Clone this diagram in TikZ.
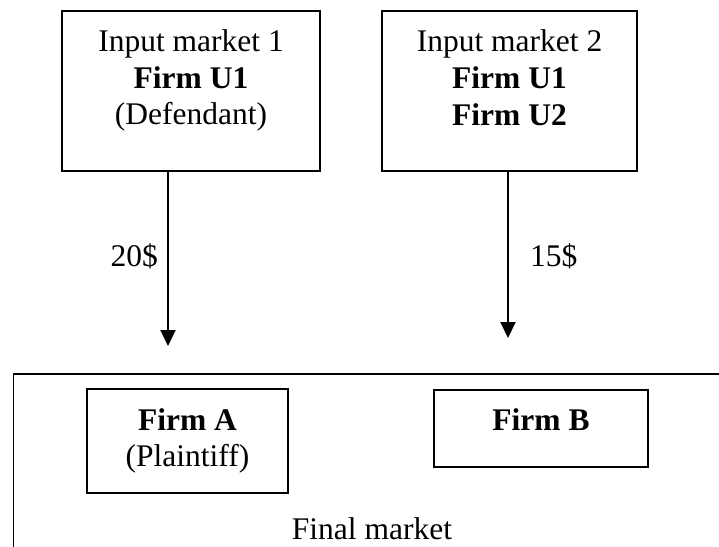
\documentclass[tikz,border=0pt]{standalone}
\usepackage{fontspec}
\setmainfont{Liberation Serif}
\usetikzlibrary{arrows.meta}
\tikzset{
  frame/.style={draw=black, line width=1.5pt, rectangle, inner sep=0pt},
  txt/.style={anchor=base, inner sep=0pt, font=\fontsize{31.5}{37}\selectfont},
  flow/.style={draw=black, line width=2pt, -{Triangle[width=15pt,length=16pt]}},
}
\begin{document}
\begin{tikzpicture}[x=1pt,y=-1pt]
  \clip (0,0) rectangle (719,546);
  \fill[white] (0,0) rectangle (719,546);

  % upstream input markets
  \node[frame, minimum width=258pt, minimum height=160pt] (in1) at (191,91) {};
  \node[frame, minimum width=255pt, minimum height=160pt] (in2) at (509.5,91) {};
  \node[txt] (in1a) at (191,51) {Input market 1};
  \node[txt] (in1b) at (191,88) {\textbf{Firm U1}};
  \node[txt] (in1c) at (191,124) {(Defendant)};
  \node[txt] (in2a) at (509.5,51) {Input market 2};
  \node[txt] (in2b) at (509.5,88) {\textbf{Firm U1}};
  \node[txt] (in2c) at (509.5,125) {\textbf{Firm U2}};

  % final market frame, running past the right and bottom edges
  \node[frame, anchor=north west, minimum width=800pt, minimum height=260pt] (fin) at (12.5,373) {};
  \node[frame, minimum width=201pt, minimum height=104pt] (fa) at (187.5,441) {};
  \node[frame, minimum width=214pt, minimum height=77pt] (fb) at (541,428.5) {};
  \node[txt] (faa) at (187.5,430) {\textbf{Firm A}};
  \node[txt] (fab) at (187.5,466) {(Plaintiff)};
  \node[txt] (fba) at (541,430) {\textbf{Firm B}};
  \node[txt] (finl) at (372,539) {Final market};

  % input prices
  \coordinate (tip1) at (168,346);
  \coordinate (tip2) at (508,338);
  \draw[flow] (in1.south -| tip1) -- (tip1);
  \draw[flow] (in2.south -| tip2) -- (tip2);
  \node[txt, anchor=base east] (p1) at (158,266) {20\$};
  \node[txt, anchor=base west] (p2) at (530,266) {15\$};
\end{tikzpicture}
\end{document}
